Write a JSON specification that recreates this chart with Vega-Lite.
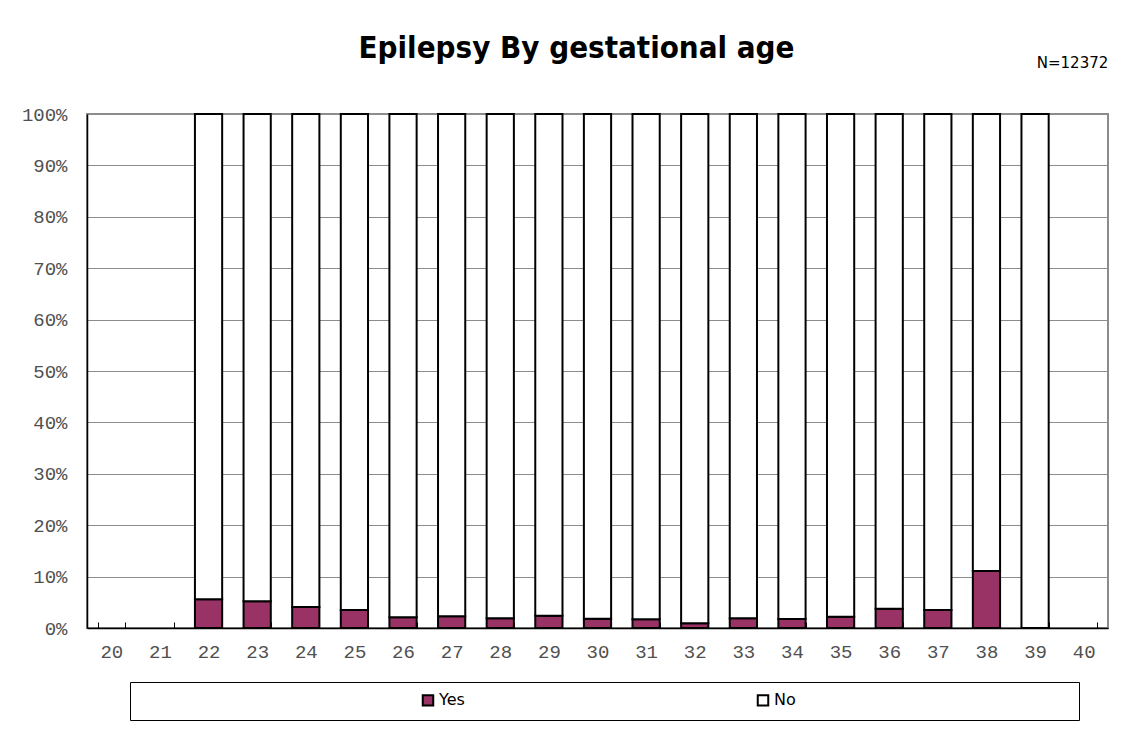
{
  "$schema": "https://vega.github.io/schema/vega-lite/v6.json",
  "autosize": {"type": "none"},
  "width": 1021,
  "height": 514,
  "padding": {"left": 87, "top": 114, "right": 23, "bottom": 103},
  "background": "#ffffff",
  "title": {
    "text": "Epilepsy By gestational age",
    "font": "DejaVu Sans Condensed, DejaVu Sans",
    "fontWeight": "bold",
    "fontSize": 31,
    "color": "#000000",
    "anchor": "middle",
    "dx": -21,
    "offset": -9
  },
  "layer": [
    {
      "data": {
        "values": [
          {"age": "22", "status": "Yes", "pct": 0.056}, {"age": "22", "status": "No", "pct": 0.944},
          {"age": "23", "status": "Yes", "pct": 0.052}, {"age": "23", "status": "No", "pct": 0.948},
          {"age": "24", "status": "Yes", "pct": 0.041}, {"age": "24", "status": "No", "pct": 0.959},
          {"age": "25", "status": "Yes", "pct": 0.035}, {"age": "25", "status": "No", "pct": 0.965},
          {"age": "26", "status": "Yes", "pct": 0.021}, {"age": "26", "status": "No", "pct": 0.979},
          {"age": "27", "status": "Yes", "pct": 0.023}, {"age": "27", "status": "No", "pct": 0.977},
          {"age": "28", "status": "Yes", "pct": 0.019}, {"age": "28", "status": "No", "pct": 0.981},
          {"age": "29", "status": "Yes", "pct": 0.024}, {"age": "29", "status": "No", "pct": 0.976},
          {"age": "30", "status": "Yes", "pct": 0.018}, {"age": "30", "status": "No", "pct": 0.982},
          {"age": "31", "status": "Yes", "pct": 0.017}, {"age": "31", "status": "No", "pct": 0.983},
          {"age": "32", "status": "Yes", "pct": 0.009}, {"age": "32", "status": "No", "pct": 0.991},
          {"age": "33", "status": "Yes", "pct": 0.019}, {"age": "33", "status": "No", "pct": 0.981},
          {"age": "34", "status": "Yes", "pct": 0.0175}, {"age": "34", "status": "No", "pct": 0.9825},
          {"age": "35", "status": "Yes", "pct": 0.022}, {"age": "35", "status": "No", "pct": 0.978},
          {"age": "36", "status": "Yes", "pct": 0.0375}, {"age": "36", "status": "No", "pct": 0.9625},
          {"age": "37", "status": "Yes", "pct": 0.035}, {"age": "37", "status": "No", "pct": 0.965},
          {"age": "38", "status": "Yes", "pct": 0.111}, {"age": "38", "status": "No", "pct": 0.889},
          {"age": "39", "status": "Yes", "pct": 0.0}, {"age": "39", "status": "No", "pct": 1.0}
        ]
      },
      "mark": {"type": "bar", "stroke": "#000000", "strokeWidth": 2},
      "encoding": {
        "x": {
          "field": "age",
          "type": "ordinal",
          "scale": {
            "domain": ["20","21","22","23","24","25","26","27","28","29","30","31","32","33","34","35","36","37","38","39","40"],
            "paddingInner": 0.44,
            "paddingOuter": 0.22
          },
          "axis": {
            "title": null,
            "labelAngle": 0,
            "labelFont": "Liberation Mono",
            "labelFontSize": 19,
            "labelColor": "#505050",
            "labelPadding": 20,
            "tickBand": "extent",
            "tickSize": -6,
            "tickColor": "#000000",
            "domainColor": "#000000",
            "domainWidth": 1.5,
            "grid": false
          }
        },
        "y": {
          "field": "pct",
          "type": "quantitative",
          "stack": "zero",
          "scale": {"domain": [0, 1], "nice": false},
          "axis": {
            "title": null,
            "format": ".0%",
            "values": [0, 0.1, 0.2, 0.3, 0.4, 0.5, 0.6, 0.7, 0.8, 0.9, 1.0],
            "labelFont": "Liberation Mono",
            "labelFontSize": 19,
            "labelColor": "#505050",
            "labelPadding": 20,
            "ticks": false,
            "grid": true,
            "gridColor": "#8c8c8c",
            "gridWidth": 1,
            "domainColor": "#000000",
            "domainWidth": 1.5
          }
        },
        "color": {
          "field": "status",
          "type": "nominal",
          "scale": {"domain": ["Yes", "No"], "range": ["#993366", "#ffffff"]},
          "legend": {
            "orient": "none",
            "legendX": 43,
            "legendY": 568,
            "direction": "horizontal",
            "title": "\u00a0",
            "titleOrient": "right",
            "titlePadding": 273,
            "titleFontSize": 10,
            "strokeColor": "#000000",
            "fillColor": "#ffffff",
            "padding": 10,
            "symbolType": "square",
            "symbolSize": 110,
            "symbolStrokeColor": "#000000",
            "symbolStrokeWidth": 2,
            "symbolOffset": 280,
            "labelFont": "DejaVu Sans",
            "labelFontSize": 16,
            "labelColor": "#000000",
            "labelOffset": 3,
            "columnPadding": 10
          }
        },
        "order": {"field": "status", "sort": "descending"}
      }
    },
    {
      "data": {"values": [{"note": "N=12372"}]},
      "mark": {"type": "text", "align": "right", "baseline": "middle", "font": "DejaVu Sans", "fontSize": 15, "color": "#000000", "xOffset": 11},
      "encoding": {
        "x": {"datum": "40", "type": "ordinal", "bandPosition": 1},
        "y": {"datum": 1.099, "type": "quantitative", "scale": {"domain": [0, 1], "nice": false}},
        "text": {"field": "note"}
      }
    }
  ],
  "config": {
    "view": {"stroke": "#8c8c8c", "strokeWidth": 2}
  }
}
